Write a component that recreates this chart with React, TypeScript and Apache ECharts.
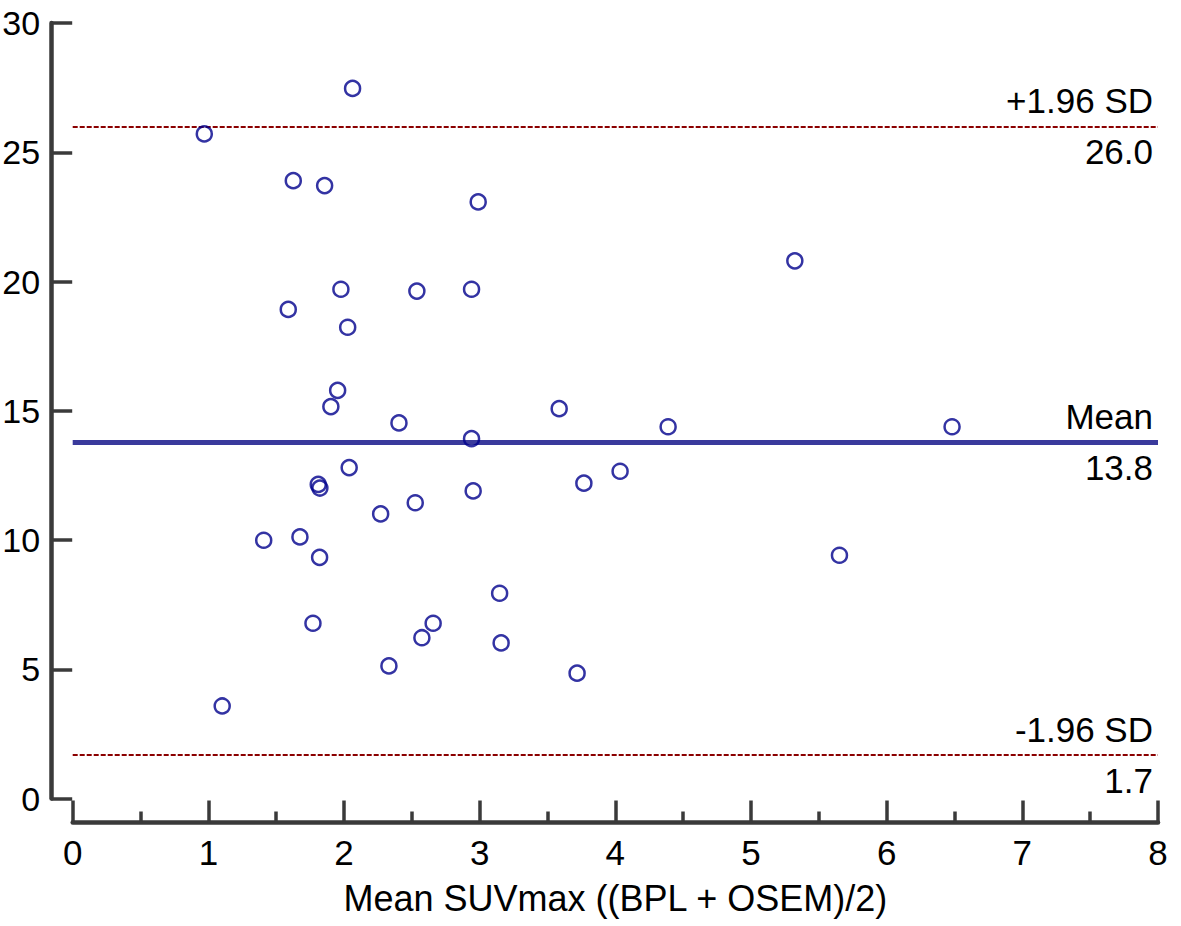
import React, { useEffect, useRef } from "react";
import * as echarts from "echarts";

// Mean SUVmax ((BPL + OSEM)/2)
const meanSUV: number[] = [
  0.97, 2.063, 1.626, 1.857, 2.989, 5.323, 1.589, 1.977, 2.537, 2.94,
  2.027, 1.953, 1.903, 3.586, 2.405, 4.389, 6.482, 2.94, 2.038, 1.81,
  1.822, 4.035, 3.768, 2.952, 2.525, 2.27, 1.408, 1.675, 1.82, 5.652,
  3.147, 1.771, 2.657, 2.574, 3.158, 2.331, 3.718, 1.102,
];
// Difference values
const difference: number[] = [
  25.71, 27.47, 23.9, 23.71, 23.08, 20.8, 18.92, 19.7, 19.63, 19.7,
  18.23, 15.79, 15.16, 15.08, 14.53, 14.38, 14.38, 13.92, 12.8, 12.15,
  12.01, 12.66, 12.2, 11.9, 11.44, 11.01, 9.99, 10.12, 9.33, 9.41,
  7.94, 6.78, 6.78, 6.22, 6.02, 5.13, 4.85, 3.58,
];

const upperLimit = 26.0;
const meanDiff = 13.8;
const lowerLimit = 1.7;
const upperLabel = "+1.96 SD";
const meanLabel = "Mean";
const lowerLabel = "-1.96 SD";
const xAxisTitle = "Mean SUVmax ((BPL + OSEM)/2)";

const FONT = "'Liberation Sans', Arial, Helvetica, sans-serif";
const AXIS_COLOR = "#3a3a3a";
const FS = 35;

function refLine(value: number, color: string, width: number, type: any, topText: string) {
  const labelBase = {
    show: true,
    fontSize: FS,
    fontFamily: FONT,
    color: "#000",
    distance: [5, 8],
  };
  return [
    {
      yAxis: value,
      lineStyle: { color, width, type },
      label: { ...labelBase, position: "insideEndTop", formatter: topText },
    },
    {
      yAxis: value,
      lineStyle: { color: "rgba(0,0,0,0)", width: 0.01, type: "solid" },
      label: { ...labelBase, position: "insideEndBottom", formatter: value.toFixed(1) },
    },
  ];
}

export default function App() {
  const ref = useRef<HTMLDivElement>(null);
  useEffect(() => {
    if (!ref.current) return;
    const chart = echarts.init(ref.current, undefined, { renderer: "svg" });
    const points = meanSUV.map((x, i) => [x, difference[i]]);
    chart.setOption({
      animation: false,
      backgroundColor: "#fff",
      grid: {
        left: 72.7,
        top: 23,
        right: 23,
        bottom: 127.5,
        containLabel: false,
        outerBoundsMode: "none",
      },
      xAxis: {
        type: "value",
        min: 0,
        max: 8,
        interval: 1,
        offset: 24,
        name: xAxisTitle,
        nameLocation: "middle",
        nameGap: 58,
        nameTextStyle: { fontSize: 36, fontFamily: FONT, color: "#000" },
        axisLine: { show: true, onZero: false, lineStyle: { color: AXIS_COLOR, width: 4.5 } },
        axisTick: { show: true, inside: true, length: 22, lineStyle: { color: AXIS_COLOR, width: 3.5 } },
        minorTick: { show: true, splitNumber: 2, length: 11, lineStyle: { color: AXIS_COLOR, width: 3.5 } },
        axisLabel: { fontSize: FS, fontFamily: FONT, color: "#000", margin: 12 },
        splitLine: { show: false },
        minorSplitLine: { show: false },
      },
      yAxis: {
        type: "value",
        min: 0,
        max: 30,
        interval: 5,
        offset: 21.5,
        axisLine: { show: true, onZero: false, lineStyle: { color: AXIS_COLOR, width: 4.5 } },
        axisTick: { show: true, inside: true, length: 21, lineStyle: { color: AXIS_COLOR, width: 3.5 } },
        axisLabel: { fontSize: 34, fontFamily: FONT, color: "#000", margin: 11 },
        splitLine: { show: false },
      },
      series: [
        {
          type: "scatter",
          data: points,
          symbol: "circle",
          symbolSize: 15,
          itemStyle: { color: "rgba(0,0,0,0)", borderColor: "#00008c", borderWidth: 2.5 },
          z: 3,
          markLine: {
            silent: true,
            symbol: ["none", "none"],
            z: 2,
            data: [
              ...refLine(upperLimit, "#8b0000", 2, [5, 2], upperLabel),
              ...refLine(meanDiff, "#3a3a9c", 5, "solid", meanLabel),
              ...refLine(lowerLimit, "#8b0000", 2, [5, 2], lowerLabel),
            ],
          },
        },
      ],
    });
    return () => chart.dispose();
  }, []);
  return (
    <div
      ref={ref}
      style={{ position: "fixed", left: 0, top: 0, width: 1181, height: 926, background: "#fff" }}
    />
  );
}
